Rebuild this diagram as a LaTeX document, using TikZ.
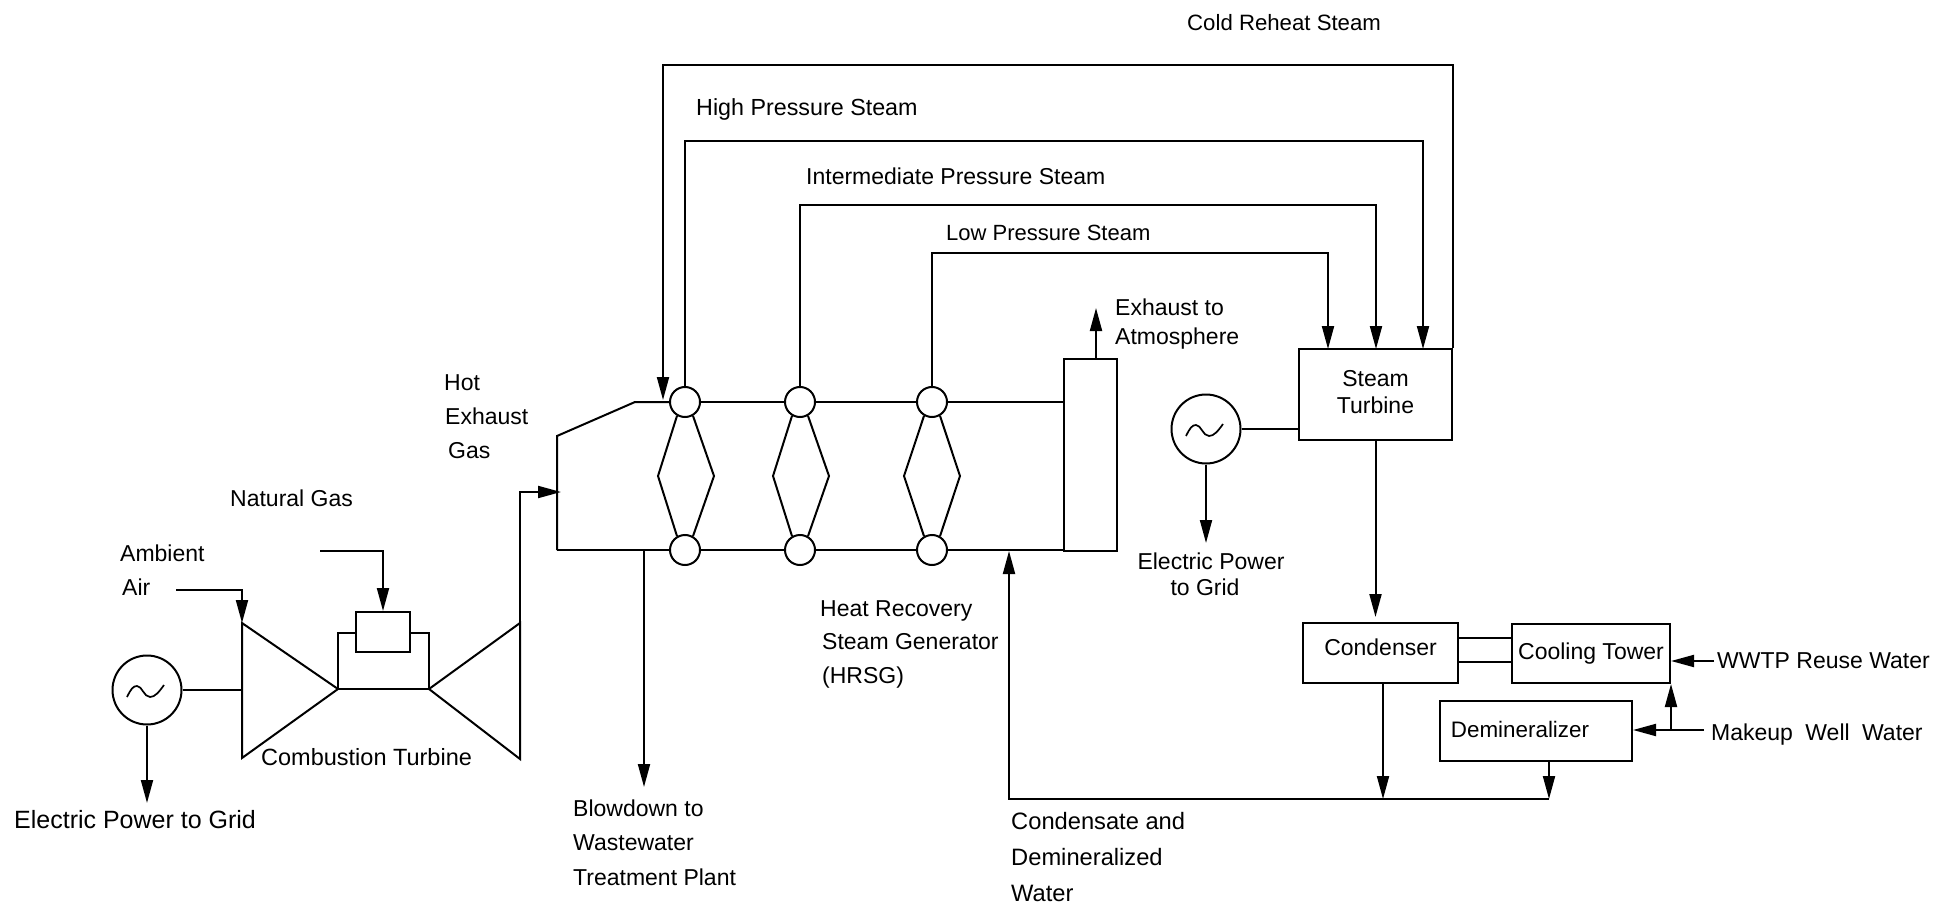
\documentclass[tikz,border=0pt]{standalone}
\usepackage{fontspec}
\setmainfont{Liberation Sans}
\usetikzlibrary{arrows.meta,calc}
\tikzset{
  every picture/.style={x=1pt,y=-1pt},
  ln/.style={line width=2pt,line join=miter},
  arr/.style={ln,-{Triangle[length=23pt,width=12pt]}},
  boxn/.style={draw,line width=2pt,rectangle,inner sep=0pt,align=center,font=\fontsize{23}{27}\selectfont},
  dot/.style={draw,line width=2pt,circle,inner sep=0pt,minimum size=30pt},
  gen/.style={draw,line width=2pt,circle,inner sep=0pt,minimum size=69pt},
  lbl/.style={anchor=west,inner sep=0pt,yshift=-4pt,text height=.72em,text depth=.1em,font=\fontsize{23}{28}\selectfont},
}
\begin{document}
\begin{tikzpicture}
\useasboundingbox (0,0) rectangle (1933,904);
\fill[white] (0,0) rectangle (1933,904);
% boxes
\node[boxn,minimum width=153pt,minimum height=91pt] (st) at (1375.5,394.5) {\raisebox{6pt}{Steam}\\\raisebox{6pt}{Turbine}};
\node[boxn,minimum width=155pt,minimum height=60pt] (cond) at (1380.5,653) {\raisebox{11pt}{Condenser}};
\node[boxn,minimum width=158pt,minimum height=59pt] (ct) at (1591,653.5) {\raisebox{-4pt}{Cooling Tower}};
\node[boxn,minimum width=192pt,minimum height=60pt] (dem) at (1536,731) {\raisebox{4pt}{\fontsize{22.4}{27}\selectfont Demineralizer\hspace{32pt}}};
\node[boxn,minimum width=53pt,minimum height=192pt] (stack) at (1090.5,455) {};
\node[boxn,minimum width=54pt,minimum height=40pt] (comb) at (383,632) {};
% generators
\node[gen] (g1) at (147,690) {};
\node[gen] (g2) at (1206,429) {};
\foreach \g in {g1,g2}{
  \begin{scope}[shift={(\g.center)}]
  \draw[line width=1.7pt] (-20,7) .. controls (-16,-1) and (-14,-4) .. (-10,-4) .. controls (-5,-4) and (-3,7) .. (3,7) .. controls (8,7) and (12,2) .. (17,-5);
  \end{scope}
}
% HRSG tube circles
\node[dot] (t1) at (685,402) {};
\node[dot] (t2) at (800,402) {};
\node[dot] (t3) at (932,402) {};
\node[dot] (b1) at (685,550) {};
\node[dot] (b2) at (800,550) {};
\node[dot] (b3) at (932,550) {};
% coordinates
\coordinate (cl) at (242,623);
\coordinate (cb) at (242,758);
\coordinate (ca) at (338,689);
\coordinate (ta) at (429,689);
\coordinate (tt) at (520,623);
\coordinate (tb) at (520,759);
\coordinate (brk) at (0,633);
\coordinate (hl) at (561,492);
\coordinate (hs) at (557,436);
\coordinate (he) at (635,402);
\coordinate (hb) at (557,550);
\coordinate (airs) at (176,590);
\coordinate (ngs) at (320,551);
\coordinate (gridA) at (147,803);
\coordinate (gridB) at (1206,543);
\coordinate (exh) at (1096,308);
\coordinate (bd) at (644,550);
\coordinate (bdt) at (644,787);
\coordinate (cin) at (1009,551);
\coordinate (bus) at (1009,799);
\coordinate (busc) at (1383,799);
\coordinate (busd) at (1549,799);
\coordinate (crt) at (663,65);
\coordinate (crtip) at (663,400);
\coordinate (hp) at (685,141);
\coordinate (ip) at (800,205);
\coordinate (lp) at (932,253);
\coordinate (hpx) at (1423,349);
\coordinate (ipx) at (1376,349);
\coordinate (lpx) at (1328,349);
\coordinate (ww) at (1714,661);
\coordinate (mk) at (1704,730);
\coordinate (l1) at (0,638);
\coordinate (l2) at (0,662);
\coordinate (cnd) at (1375.5,617);
% combustion turbine
\draw[ln] (cl) -- (ca) -- (cb) -- cycle;
\draw[ln] (tt) -- (ta) -- (tb) -- cycle;
\draw[ln] (ca) -- (ta);
\draw[ln] (ca) -- (ca |- brk) -- (comb.west |- brk);
\draw[ln] (ta) -- (ta |- brk) -- (comb.east |- brk);
\draw[ln] (g1) -- (g1 -| cl);
\draw[arr] (g1) -- (gridA);
\draw[arr] (airs) -- (airs -| cl) -- (cl);
\draw[arr] (ngs) -- (ngs -| comb) -- (comb.north);
\draw[arr] (tt) -- (tt |- hl) -- (hl);
% HRSG casing
\draw[ln] (hb) -- (hs) -- (he) -- (t1);
\draw[ln] (hb) -- (b1);
\draw[ln] (t1) -- (t2);
\draw[ln] (t2) -- (t3);
\draw[ln] (t3) -- (stack.west |- t3);
\draw[ln] (b1) -- (b2);
\draw[ln] (b2) -- (b3);
\draw[ln] (b3) -- (stack.west |- b3);
% tube bundles
\foreach \i/\m in {1/686,2/801,3/932}{
  \draw[ln] (t\i.240) -- (\m-28,476) -- (b\i.120);
  \draw[ln] (t\i.300) -- (\m+28,476) -- (b\i.60);
}
% steam lines
\draw[arr] (st.north east) -- (st.north east |- crt) -- (crt) -- (crtip);
\draw[arr] (t1) -- (hp) -- (hp -| hpx) -- (hpx);
\draw[arr] (t2) -- (ip) -- (ip -| ipx) -- (ipx);
\draw[arr] (t3) -- (lp) -- (lp -| lpx) -- (lpx);
\draw[arr] (stack.north -| exh) -- (exh);
\draw[arr] (bd) -- (bdt);
% steam cycle
\draw[ln] (g2) -- (g2 -| st.west);
\draw[arr] (g2) -- (gridB);
\draw[arr] (st.south) -- (cnd);
\draw[ln] (cond.east |- l1) -- (ct.west |- l1);
\draw[ln] (cond.east |- l2) -- (ct.west |- l2);
\draw[arr] (ww) -- (ww -| ct.east);
\draw[arr] (mk) -- (mk -| dem.east);
\draw[arr] (mk -| ct.east) -- (ct.south east);
\draw[arr] (busd) -- (bus) -- (cin);
\draw[arr] (cond.south -| busc) -- (busc);
\draw[arr] (dem.south -| busd) -- (busd);
% labels
\node[lbl,font=\fontsize{22.2}{28}\selectfont] (n1) at (1187,23) {Cold Reheat Steam};
\node[lbl,font=\fontsize{23.3}{28}\selectfont] (n2) at (696,108) {High Pressure Steam};
\node[lbl] (n3) at (806,177) {Intermediate Pressure Steam};
\node[lbl,font=\fontsize{22}{28}\selectfont] (n4) at (946,233) {Low Pressure Steam};
\node[lbl] (n5) at (1115,308) {Exhaust to};
\node[lbl] (n6) at (1115,337) {Atmosphere};
\node[lbl] (n7) at (444,383) {Hot};
\node[lbl] (n8) at (445,417) {Exhaust};
\node[lbl] (n9) at (448,451) {Gas};
\node[lbl] (n10) at (230,499) {Natural Gas};
\node[lbl] (n11) at (120,554) {Ambient};
\node[lbl] (n12) at (122,588) {Air};
\node[lbl,font=\fontsize{23.5}{28}\selectfont] (n13) at (261,758) {Combustion Turbine};
\node[lbl,font=\fontsize{25}{28}\selectfont] (n14) at (14,821) {Electric Power to Grid};
\node[lbl] (n15) at (573,809) {Blowdown to};
\node[lbl] (n16) at (573,843) {Wastewater};
\node[lbl] (n17) at (573,878) {Treatment Plant};
\node[lbl] (n18) at (820,609) {Heat Recovery};
\node[lbl] (n19) at (822,642) {Steam Generator};
\node[lbl] (n20) at (822,676) {(HRSG)};
\node[lbl,font=\fontsize{23.7}{28}\selectfont] (n21) at (1011,822) {Condensate and};
\node[lbl,font=\fontsize{23.7}{28}\selectfont] (n22) at (1011,858) {Demineralized};
\node[lbl,font=\fontsize{23.7}{28}\selectfont] (n23) at (1011,894) {Water};
\node[lbl,anchor=center] (n24) at (1211,562) {Electric Power};
\node[lbl,anchor=center] (n25) at (1205,588) {to Grid};
\node[lbl] (n26) at (1717,661) {WWTP Reuse Water};
\node[lbl] (n27) at (1711,733) {Makeup\hspace{6pt} Well\hspace{6pt} Water};
\end{tikzpicture}
\end{document}
